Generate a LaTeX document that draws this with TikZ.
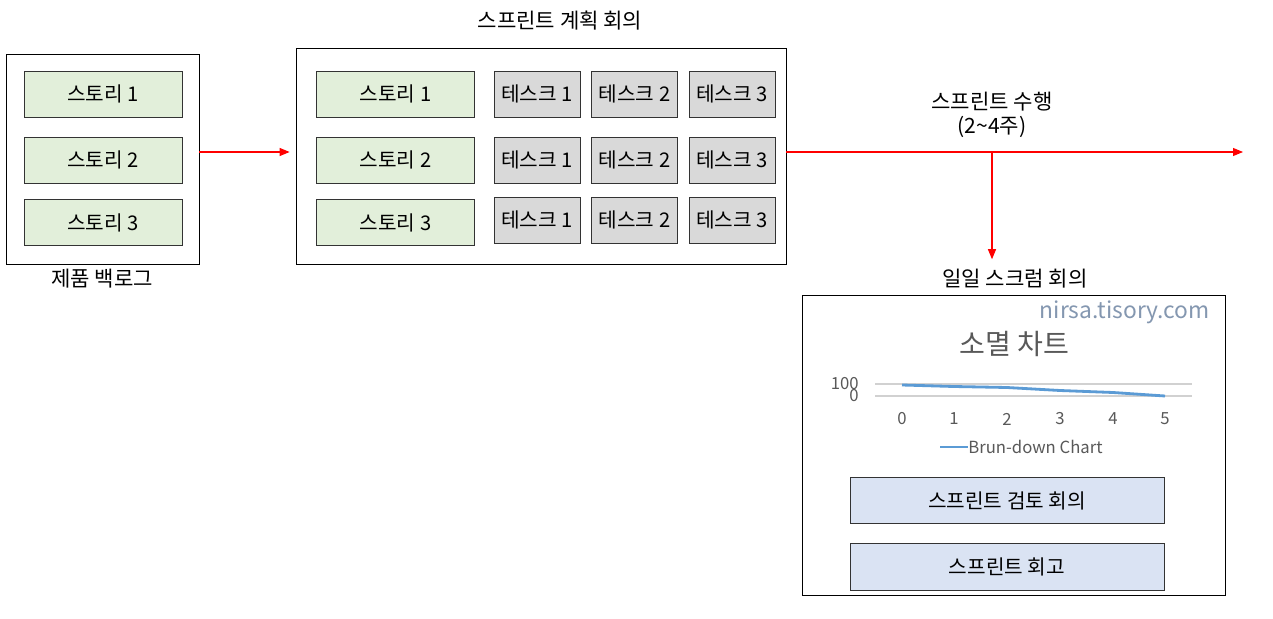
\documentclass[tikz,border=0pt]{standalone}
\usepackage{fontspec}
\setmainfont{Noto Sans CJK KR}
\usetikzlibrary{arrows.meta,positioning}

\definecolor{storyfill}{HTML}{E2EFDA}
\definecolor{taskfill}{HTML}{D9D9D9}
\definecolor{meetfill}{HTML}{DAE3F3}
\definecolor{chartline}{HTML}{5B9BD5}
\definecolor{charttext}{HTML}{595959}
\definecolor{markcol}{HTML}{8497B0}

\begin{document}
\begin{tikzpicture}[
  x=0.02cm, y=-0.02cm,
  frame/.style={rectangle, draw=black, fill=white, line width=0.5pt, inner sep=0pt},
  story/.style={rectangle, draw=black!80, fill=storyfill,
    minimum width=3.16cm, minimum height=0.92cm, font=\fontsize{11.5}{13}\selectfont, inner sep=2pt},
  task/.style={rectangle, draw=black!80, fill=taskfill,
    minimum width=1.72cm, minimum height=0.92cm, font=\fontsize{11.5}{13}\selectfont, inner sep=1pt},
  meeting/.style={rectangle, draw=black!80, fill=meetfill,
    minimum width=6.28cm, minimum height=0.93cm, font=\fontsize{11.5}{13}\selectfont},
  lbl/.style={font=\fontsize{12}{14}\selectfont, align=center},
  axislbl/.style={font=\fontsize{9.5}{11}\selectfont, text=charttext, inner sep=0pt},
  arr/.style={-{Triangle[length=2mm, width=1.6mm]}, red, line width=0.6pt},
]
\useasboundingbox (0,0) rectangle (1273,618);

% product backlog
\node[frame, minimum width=3.86cm, minimum height=4.2cm] (backlog) at (102.5,159) {};
\node[story] (b1) at (103,94) {스토리 1};
\node[story] (b2) at (103,160) {스토리 2};
\node[story] (b3) at (103,222.5) {스토리 3};
\node[lbl] (backloglbl) at (102,279) {제품 백로그};

% sprint planning
\node[frame, minimum width=9.8cm, minimum height=4.32cm] (planning) at (541,156) {};
\node[lbl] (planninglbl) at (560,21) {스프린트 계획 회의};
\node[story] (s1) at (395.5,94) {스토리 1};
\node[story] (s2) at (395.5,160) {스토리 2};
\node[story] (s3) at (395.5,222.5) {스토리 3};
\foreach \row/\y in {1/94, 2/160, 3/220} {
  \node[task] (t\row a) at (537,\y) {테스크 1};
  \node[task] (t\row b) at (634.5,\y) {테스크 2};
  \node[task] (t\row c) at (732,\y) {테스크 3};
}

% sprint run
\coordinate (flow) at (0,152);
\coordinate (split) at (992,152);
\coordinate (runend) at (1243,152);
\node[lbl] (runlbl) at (992,115) {스프린트 수행\\(2\textasciitilde4주)};
\draw[arr] (backlog.east |- flow) -- ([xshift=-0.12cm]planning.west |- flow);
\draw[arr] (planning.east |- flow) -- (runend);

% daily scrum
\node[frame, minimum width=8.46cm, minimum height=6cm] (daily) at (1013.5,445) {};
\node[lbl] (dailylbl) at (1015,279) {일일 스크럼 회의};
\draw[arr] (split) -- ([yshift=0.08cm]split |- dailylbl.north);
\node[font=\fontsize{13}{15}\selectfont, text=markcol, anchor=east] (mark) at (1216,312) {nirsa.tisory.com};
\node[font=\fontsize{16}{18}\selectfont, text=charttext] (charttitle) at (1014,344) {소멸 차트};

% burn-down chart
\draw[black!18, line width=0.6pt] (875,384) -- (1192,384);
\draw[black!18, line width=0.6pt] (875,396) -- (1192,396);
\node[axislbl, anchor=east] (y100) at (859,384) {100};
\node[axislbl, anchor=east] (y0) at (859,396) {0};
\foreach \i/\x in {0/902, 1/954, 2/1007, 3/1060, 4/1113, 5/1165}
  \node[axislbl] (x\i) at (\x,419) {\i};
\draw[chartline, line width=1.6pt, line join=round]
  (902,385) -- (954,386.5) -- (1007,387.5) -- (1060,390.5) -- (1113,392.5) -- (1165,396);
\node[axislbl, anchor=west] (legend) at (968,447) {Brun-down Chart};
\draw[chartline, line width=1.6pt] (940,447) -- (legend.west);

\node[meeting] (review) at (1007,500.5) {스프린트 검토 회의};
\node[meeting] (retro) at (1007,567) {스프린트 회고};
\end{tikzpicture}
\end{document}
